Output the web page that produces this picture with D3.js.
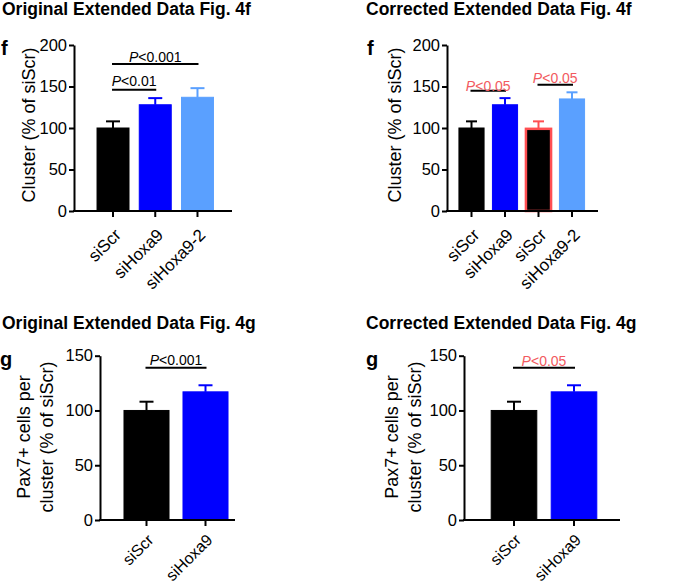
<!DOCTYPE html>
<html>
<head>
<meta charset="utf-8">
<script src="https://cdn.jsdelivr.net/npm/d3@7"></script>
<style>
  body { margin: 0; background: #fff; }
  svg { display: block; font-family: "Liberation Sans", Arial, Helvetica, sans-serif; }
</style>
</head>
<body>
<svg id="chart" width="685" height="585"></svg>
<script>
// data
var clusterTicks = [0, 50, 100, 150, 200];
var pax7Ticks = [0, 50, 100, 150];

var origFCats = ["siScr", "siHoxa9", "siHoxa9-2"];
var origFVals = [100, 128, 137];
var origFErr = [108, 136, 148];   // top of error bar
var origFSig = [
  { from: 0, to: 1, y: 146, text: "<0.01" },
  { from: 0, to: 2, y: 177, text: "<0.001" }
];

var corrFCats = ["siScr", "siHoxa9", "siScr", "siHoxa9-2"];
var corrFVals = [100, 128, 99, 135];
var corrFErr = [108, 136, 108, 143];
var corrFSig = [
  { from: 0, to: 1, y: 145, text: "<0.05" },
  { from: 2, to: 3, y: 152, text: "<0.05" }
];

var pax7Cats = ["siScr", "siHoxa9"];
var pax7Vals = [100, 117];
var pax7Err = [108, 123];
var origGSig = [{ from: 0, to: 1, y: 139, text: "<0.001" }];
var corrGSig = [{ from: 0, to: 1, y: 139, text: "<0.05" }];

var BLACK = "#000", BLUE = "#0000ff", LIGHT = "#5aa0ff", RED = "#ff4f52", REDTXT = "#f25a60";

var svg = d3.select("#chart");

function drawPanel(o) {
  var g = svg.append("g");

  var y = d3.scaleLinear().domain([0, d3.max(o.ticks)]).range([o.y0, o.y1]);
  var idx = o.cats.map(function(d, i) { return i; });
  var x = d3.scaleBand().domain(idx).range(o.xr).paddingInner(o.pad).paddingOuter(o.pad / 2);

  // title + panel letter
  svg.append("text").attr("x", o.title[0]).attr("y", o.title[1])
    .attr("font-size", 17.5).attr("font-weight", "bold").text(o.titleText);
  svg.append("text").attr("x", o.letter[0]).attr("y", o.letter[1])
    .attr("font-size", 20).attr("font-weight", "bold").text(o.letterText);

  // bars
  g.selectAll(".bar")
    .data(o.vals)
    .enter()
    .append("rect")
    .attr("x", function(d, i) { return x(i); })
    .attr("y", function(d) { return y(d); })
    .attr("width", x.bandwidth())
    .attr("height", function(d) { return y(0) - y(d); })
    .attr("fill", function(d, i) { return o.fills[i]; })
    .attr("stroke", function(d, i) { return o.strokes[i]; })
    .attr("stroke-width", function(d, i) { return o.strokes[i] === RED ? 2.5 : 1; });

  // error bars (upper only)
  var err = g.selectAll(".err")
    .data(o.err)
    .enter()
    .append("g")
    .attr("stroke", function(d, i) { return o.errCol[i]; })
    .attr("stroke-width", 2);
  err.append("line")
    .attr("x1", function(d, i) { return x(i) + x.bandwidth() / 2; })
    .attr("x2", function(d, i) { return x(i) + x.bandwidth() / 2; })
    .attr("y1", function(d, i) { return y(o.vals[i]); })
    .attr("y2", function(d) { return y(d); });
  err.append("line")
    .attr("x1", function(d, i) { return x(i) + x.bandwidth() / 2 - o.cap / 2; })
    .attr("x2", function(d, i) { return x(i) + x.bandwidth() / 2 + o.cap / 2; })
    .attr("y1", function(d) { return y(d); })
    .attr("y2", function(d) { return y(d); });

  // y axis
  var yAxis = g.append("g")
    .attr("transform", "translate(" + o.ax + ",0)")
    .call(d3.axisLeft(y).tickValues(o.ticks).tickSize(5).tickSizeOuter(0).tickPadding(2));
  yAxis.select(".domain").attr("stroke-width", 2);
  yAxis.selectAll(".tick line").attr("stroke-width", 2);
  yAxis.selectAll(".tick text").attr("font-size", 16.5).attr("fill", "#000")
    .style("font-family", "'Liberation Sans', Arial, sans-serif");

  // x axis
  var xAxis = g.append("g")
    .attr("transform", "translate(0," + o.y0 + ")")
    .call(d3.axisBottom(x).tickSize(6).tickSizeOuter(0).tickFormat(""));
  xAxis.select(".domain").remove();
  xAxis.selectAll(".tick line").attr("stroke-width", 2);
  g.append("line")
    .attr("x1", o.ax - 1).attr("x2", o.axEnd)
    .attr("y1", o.y0).attr("y2", o.y0)
    .attr("stroke", "#000").attr("stroke-width", 2);

  g.selectAll(".xlab")
    .data(o.cats)
    .enter()
    .append("text")
    .attr("text-anchor", "end")
    .attr("font-size", o.labSize)
    .attr("transform", function(d, i) {
      return "translate(" + (x(i) + x.bandwidth() / 2 + o.lab[0]) + "," + (o.y0 + o.lab[1]) + ") rotate(-45)";
    })
    .text(function(d) { return d; });

  // y label
  var yl = g.append("text")
    .attr("text-anchor", "middle")
    .attr("font-size", 18)
    .attr("transform", "translate(" + o.ylab[0] + "," + o.ylab[1] + ") rotate(-90)");
  o.ylabText.forEach(function(t, k) {
    yl.append("tspan").attr("x", 0).attr("dy", k === 0 ? 0 : 23).text(t);
  });

  // significance bars
  o.sig.forEach(function(s, k) {
    var xa = x(s.from) + x.bandwidth() / 2 - 1, xb = x(s.to) + x.bandwidth() / 2 + 1;
    g.append("line")
      .attr("x1", xa).attr("x2", xb)
      .attr("y1", y(s.y)).attr("y2", y(s.y))
      .attr("stroke", "#000").attr("stroke-width", 2);
    var t = g.append("text")
      .attr("x", (xa + xb) / 2)
      .attr("y", y(s.y) - o.sigDy[k])
      .attr("text-anchor", "middle")
      .attr("font-size", 14)
      .attr("fill", o.sigCol);
    t.append("tspan").attr("font-style", "italic").text("P");
    t.append("tspan").text(s.text);
  });
}

drawPanel({
  titleText: "Original Extended Data Fig. 4f", title: [2, 15],
  letterText: "f", letter: [1, 55],
  cats: origFCats, vals: origFVals, err: origFErr, ticks: clusterTicks,
  y0: 211, y1: 45, ax: 74, axEnd: 232, xr: [91.9, 218.6], pad: 0.243, cap: 14,
  fills: [BLACK, BLUE, LIGHT], strokes: [BLACK, BLUE, LIGHT], errCol: [BLACK, BLUE, LIGHT],
  lab: [9, 25], labSize: 17, ylab: [35, 125], ylabText: ["Cluster (% of siScr)"],
  sig: origFSig, sigDy: [4, 2], sigCol: "#000"
});

drawPanel({
  titleText: "Corrected Extended Data Fig. 4f", title: [366, 15],
  letterText: "f", letter: [367, 55],
  cats: corrFCats, vals: corrFVals, err: corrFErr, ticks: clusterTicks,
  y0: 211, y1: 45, ax: 447, axEnd: 598, xr: [454.75, 588.75], pad: 0.25, cap: 11,
  fills: [BLACK, BLUE, BLACK, LIGHT], strokes: [BLACK, BLUE, RED, LIGHT], errCol: [BLACK, BLUE, RED, LIGHT],
  lab: [9, 25], labSize: 17, ylab: [401, 125], ylabText: ["Cluster (% of siScr)"],
  sig: corrFSig, sigDy: [0, 2], sigCol: REDTXT
});

drawPanel({
  titleText: "Original Extended Data Fig. 4g", title: [2, 329],
  letterText: "g", letter: [0, 366],
  cats: pax7Cats, vals: pax7Vals, err: pax7Err, ticks: pax7Ticks,
  y0: 520, y1: 355.7, ax: 100, axEnd: 235, xr: [117, 235], pad: 0.237, cap: 14,
  fills: [BLACK, BLUE], strokes: [BLACK, BLUE], errCol: [BLACK, BLUE],
  lab: [8, 21], labSize: 16, ylab: [30, 437], ylabText: ["Pax7+ cells per", "cluster (% of siScr)"],
  sig: origGSig, sigDy: [3], sigCol: "#000"
});

drawPanel({
  titleText: "Corrected Extended Data Fig. 4g", title: [366, 329],
  letterText: "g", letter: [366, 366],
  cats: pax7Cats, vals: pax7Vals, err: pax7Err, ticks: pax7Ticks,
  y0: 520, y1: 355.7, ax: 464, axEnd: 620, xr: [484, 604], pad: 0.24, cap: 14,
  fills: [BLACK, BLUE], strokes: [BLACK, BLUE], errCol: [BLACK, BLUE],
  lab: [8, 21], labSize: 16, ylab: [398, 437], ylabText: ["Pax7+ cells per", "cluster (% of siScr)"],
  sig: corrGSig, sigDy: [2], sigCol: REDTXT
});
</script>
</body>
</html>
